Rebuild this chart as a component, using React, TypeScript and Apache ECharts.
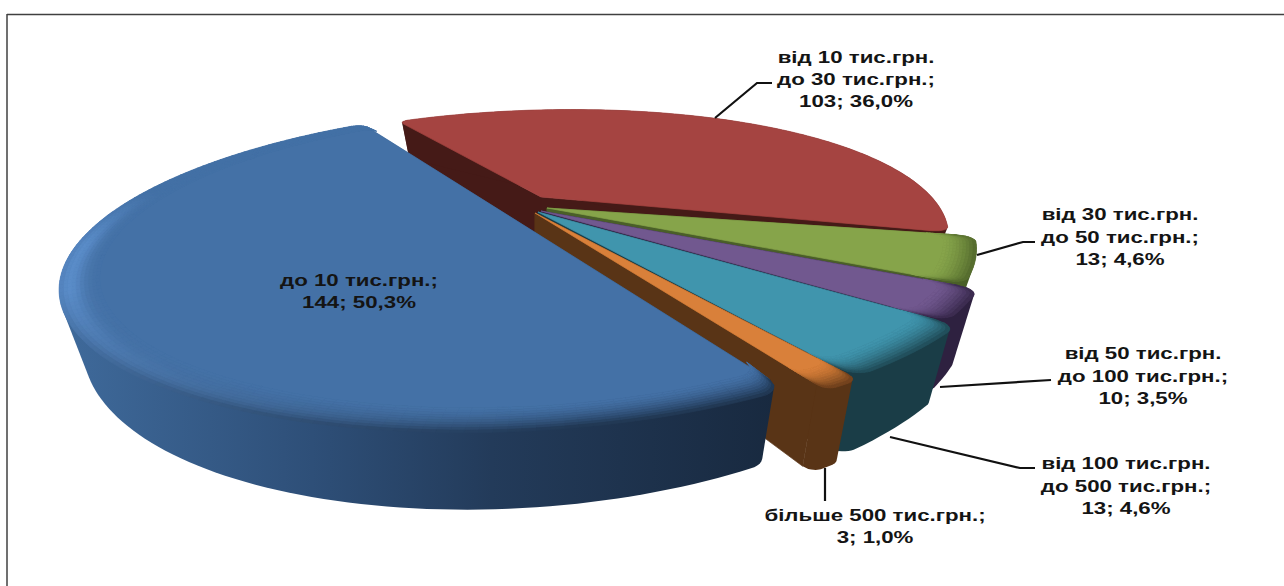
import React, { useEffect, useRef } from "react";
import * as echarts from "echarts";

// ---- data ----
const categories = [
  "до 10 тис.грн.;",
  "від 10 тис.грн.\nдо 30 тис.грн.;",
  "від 30 тис.грн.\nдо 50 тис.грн.;",
  "від 50 тис.грн.\nдо 100 тис.грн.;",
  "від 100 тис.грн.\nдо 500 тис.грн.;",
  "більше 500 тис.грн.;",
];
const counts = [144, 103, 13, 10, 13, 3];
const percentLabels = ["50,3%", "36,0%", "4,6%", "3,5%", "4,6%", "1,0%"];

// ---- looks ----
const topColors = ["#4471a6", "#a54441", "#86a44a", "#71588f", "#4095ad", "#d9803a"];
const hiColors = ["#5a8cc8", "#a54441", "#86a44a", "#71588f", "#4095ad", "#d9803a"];
const sideLeft = ["#3f6a9b", "#451a17", "#4a5f28", "#2e2140", "#1a3d47", "#593416"];
const sideRight = ["#18293f", "#451a17", "#4a5f28", "#2e2140", "#1a3d47", "#593416"];
const sliceCx = [541, 541, 547, 541, 538, 535];
const sliceCy = [206, 197, 208, 211, 212, 213];
const scaleX = [1, 0.93, 0.98, 1.025, 1.06, 1.08];
const scaleY = [1.08, 0.95, 1, 1.04, 1.07, 1.08];
const depths = [47, 46, 50, 56, 54, 55];
// the perspective of the drawing bends the slice edges a little away from their true angle
const startAdj = [3.5, -3.8, 3, 3.5, 1.2, 1.1];
const endAdj = [-9, 6.4, 3.8, 1.2, 1.1, 1];
const bevelOn = [1, 0, 1, 1, 1, 1];
const chordEdge = [1, 0, 0, 0, 0, 0];
const drawRank = [5, 0, 1, 2, 3, 4];
const START_ANGLE = -31;

const K = 0.39, RY = 128, RX = 420, SHEAR = 0.35, TAPER = 0.05;
const BEVEL = 0.07, BANDS = 10, STEP = 1.2;
const rad = Math.PI / 180;

function proj(i: number, r: number, deg: number, z: number) {
  const u = r * Math.sin(deg * rad);
  const v = -r * Math.cos(deg * rad);
  const w = 1 / (1 - K * v);
  const x0 = RX * u * w * scaleX[i];
  const y0 = RY * v * w * scaleY[i];
  return [sliceCx[i] + (x0 - SHEAR * y0) * (1 - TAPER * z), sliceCy[i] + y0 + depths[i] * w * z];
}
function hex(c: string) {
  return [1, 3, 5].map((i) => parseInt(c.slice(i, i + 2), 16));
}
function mix(a: string, b: string, t: number) {
  const A = hex(a), B = hex(b);
  const n = A.map((p, i) => Math.round(p + (B[i] - p) * Math.max(0, Math.min(1, t))));
  return "#" + n.map((p) => p.toString(16).padStart(2, "0")).join("");
}
const clamp = (t: number) => Math.max(0, Math.min(1, t));

function convexHull(points: number[][]) {
  const pts = [...points].sort((a, b) => a[0] - b[0] || a[1] - b[1]);
  const cross = (o: number[], a: number[], b: number[]) =>
    (a[0] - o[0]) * (b[1] - o[1]) - (a[1] - o[1]) * (b[0] - o[0]);
  const half = (list: number[][]) => {
    const h: number[][] = [];
    list.forEach((p) => {
      while (h.length >= 2 && cross(h[h.length - 2], h[h.length - 1], p) <= 0) h.pop();
      h.push(p);
    });
    h.pop();
    return h;
  };
  return [...half(pts), ...half([...pts].reverse())];
}

function sliceAngles() {
  const total = counts.reduce((a, b) => a + b, 0);
  // blue is laid out last so that the red slice begins at START_ANGLE
  const order = [1, 2, 3, 4, 5, 0];
  const res: number[][] = [];
  let a = START_ANGLE;
  order.forEach((i) => {
    const sweep = (counts[i] / total) * 360;
    res[i] = [a + startAdj[i], a + sweep + endAdj[i]];
    a += sweep;
  });
  return res;
}

function buildSlice(i: number) {
  const [a0, a1] = sliceAngles()[i];
  const sweep = a1 - a0;
  const delta = Math.min(2.2, sweep / 3);
  const drop = delta * rad;
  const rf = (d: number) => {
    const t = clamp((delta - Math.min(d - a0, a1 - d)) / delta);
    return 1 - drop * (1 - Math.sqrt(1 - t * t));
  };
  // finer steps near both ends, where the corners are rounded
  const angs: number[] = [];
  const n = Math.max(4, Math.ceil((sweep - 2 * delta) / STEP));
  for (let k = 0; k < 8; k++) angs.push(a0 + (delta * k) / 8);
  for (let k = 0; k <= n; k++) angs.push(a0 + delta + ((sweep - 2 * delta) * k) / n);
  for (let k = 1; k <= 8; k++) angs.push(a1 - delta + (delta * k) / 8);
  const m = angs.length - 1;
  const z2Base = drawRank[i] * 10000;
  let z = 0;
  const kids: any[] = [];
  const poly = (pts: number[][], fill: any, seam = true) =>
    kids.push({
      type: "polygon",
      z2: z2Base + z++,
      shape: { points: pts },
      style: seam ? { fill, stroke: fill, lineWidth: 0.7 } : { fill },
      silent: true,
    });
  const apex0 = proj(i, 0, 0, 0);
  const apex1 = proj(i, 0, 0, 1);
  if (!chordEdge[i]) {
    poly([apex0, proj(i, rf(a0), a0, 0), proj(i, rf(a0), a0, 1), apex1], sideRight[i]);
    poly([apex0, proj(i, rf(a1), a1, 0), proj(i, rf(a1), a1, 1), apex1], sideRight[i]);
  }
  // outer wall: the hull of the upper and lower rims, in one shape, so it has no seams
  const rimFill =
    sideLeft[i] === sideRight[i]
      ? sideLeft[i]
      : new echarts.graphic.LinearGradient(
          60, 0, 780, 0,
          [
            { offset: 0, color: sideLeft[i] },
            { offset: 0.35, color: "#2e4f78" },
            { offset: 0.6, color: "#233b5a" },
            { offset: 1, color: sideRight[i] },
          ],
          true
        );
  const rimPts: number[][] = [];
  angs.forEach((a) => {
    rimPts.push(proj(i, rf(a), a, 0));
    rimPts.push(proj(i, rf(a), a, 1));
  });
  poly(convexHull(rimPts), rimFill, false);
  // flat top
  const top: number[][] = chordEdge[i] ? [] : [apex0];
  const rIn = bevelOn[i] ? 1 - BEVEL : 1;
  if (chordEdge[i]) {
    // the whole inner side is one straight edge
    top.push(proj(i, rf(a0), a0, 0));
    angs.forEach((a) => top.push(proj(i, rf(a) * rIn, a, 0)));
    top.push(proj(i, rf(a1), a1, 0));
  } else {
    angs.forEach((a) => top.push(proj(i, rf(a) * rIn, a, 0)));
  }
  poly(top, topColors[i]);
  // bevel
  if (bevelOn[i]) {
    for (let b = 0; b < BANDS; b++) {
      const r0 = 1 - BEVEL + (BEVEL * b) / BANDS;
      const r1 = 1 - BEVEL + (BEVEL * (b + 1)) / BANDS;
      const t = (b + 0.5) / BANDS;
      for (let k = 0; k < m; k++) {
        const a = angs[k], c = angs[k + 1], mid = (a + c) / 2;
        const v = -Math.cos(mid * rad);
        const g = clamp((v + 0.1) / 0.35);
        const f = clamp((mid - 170) / 70);
        const bell = Math.exp(-Math.pow((t - 0.75) / 0.35, 2));
        let col = mix(topColors[i], hiColors[i], f * bell);
        const dark = (1 - f) * Math.pow(t, 1.6) * 0.85;
        col = mix(col, sideRight[i], dark);
        col = mix(topColors[i], col, g);
        poly(
          [
            proj(i, rf(a) * r0, a, 0),
            proj(i, rf(c) * r0, c, 0),
            proj(i, rf(c) * r1, c, 0),
            proj(i, rf(a) * r1, a, 0),
          ],
          col
        );
      }
    }
  }
  return kids;
}

const labelAt = [
  { x: 359, y: 291 },
  { x: 856, y: 79 },
  { x: 1120, y: 236.5 },
  { x: 1143, y: 375.5 },
  { x: 1126, y: 485.5 },
  { x: 875, y: 526 },
];
const leaderLines = [
  [[715, 118], [757, 83], [772, 83]],
  [[977, 255], [1023, 242], [1035, 242]],
  [[940, 387], [1051, 380]],
  [[890, 437], [1020, 468], [1035, 468]],
  [[825, 468], [825, 501]],
];

export default function App() {
  const ref = useRef<HTMLDivElement>(null);
  useEffect(() => {
    const chart = echarts.init(ref.current!, undefined, { renderer: "svg" });
    const texts = categories.map((c, i) => ({
      type: "text",
      x: labelAt[i].x,
      y: labelAt[i].y,
      scaleX: 1.31,
      z: 100,
      style: {
        text: `${c}\n${counts[i]}; ${percentLabels[i]}`,
        font: 'bold 17px "Liberation Sans", Arial, sans-serif',
        lineHeight: 22.4,
        align: "center",
        verticalAlign: "middle",
        fill: "#141414",
      },
    }));
    const lines = leaderLines.map((pts) => ({
      type: "polyline",
      z: 99,
      shape: { points: pts },
      style: { stroke: "#111111", lineWidth: 2.2, fill: "none" },
    }));
    const frame = [
      { type: "line", shape: { x1: 7, y1: 14.5, x2: 1284, y2: 14.5 }, style: { stroke: "#404040", lineWidth: 1.5 } },
      { type: "line", shape: { x1: 7, y1: 14, x2: 7, y2: 586 }, style: { stroke: "#404040", lineWidth: 1.5 } },
    ];
    chart.setOption({
      animation: false,
      backgroundColor: "#ffffff",
      series: [
        {
          type: "custom",
          coordinateSystem: "none",
          silent: true,
          data: counts,
          renderItem: (params: any) => ({
            type: "group",
            children: buildSlice(params.dataIndex),
          }),
        },
      ],
      graphic: { elements: [...frame, ...lines, ...texts] },
    });
    return () => chart.dispose();
  }, []);
  return <div ref={ref} style={{ position: "absolute", left: 0, top: 0, width: 1284, height: 586 }} />;
}
